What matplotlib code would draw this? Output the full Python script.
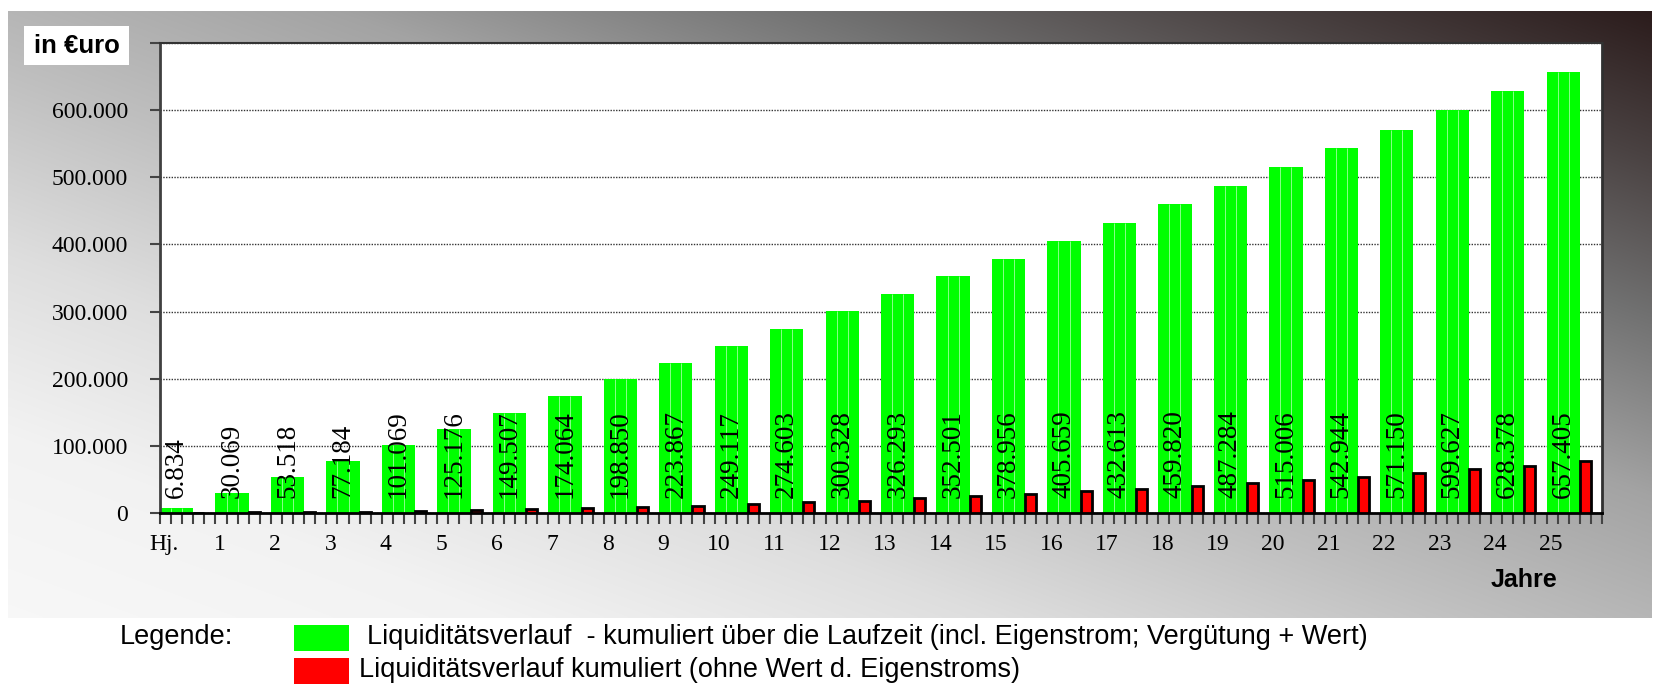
import numpy as np
import matplotlib.pyplot as plt
from matplotlib.patches import Rectangle
from matplotlib.ticker import FixedLocator, MultipleLocator, FuncFormatter
from matplotlib.transforms import ScaledTranslation

# Daten
jahre = ['Hj.'] + [str(i) for i in range(1, 26)]
mit_eigenstrom = [6834, 30069, 53518, 77184, 101069, 125176, 149507, 174064,
                  198850, 223867, 249117, 274603, 300328, 326293, 352501,
                  378956, 405659, 432613, 459820, 487284, 515006, 542944,
                  571150, 599627, 628378, 657405]
ohne_eigenstrom = [300, 900, 1500, 2200, 3000, 4200, 5600, 7500, 9300, 10800,
                   13500, 16300, 18600, 21800, 24800, 28500, 32500, 35500,
                   40000, 44500, 49000, 54000, 59500, 65000, 70500, 77000]
legende = ['  Liquiditätsverlauf  - kumuliert über die Laufzeit (incl. Eigenstrom; Vergütung + Wert)',
           'Liquiditätsverlauf kumuliert (ohne Wert d. Eigenstroms)']

W, H = 1657, 693
plt.rcParams['font.family'] = ['Liberation Sans', 'DejaVu Sans']
fig = plt.figure(figsize=(W / 100, H / 100), dpi=100)
fig.patch.set_facecolor('white')


def fpos(x0, y0, x1, y1):
    # Pixelkoordinaten (von oben) -> Figurkoordinaten
    return [x0 / W, 1 - y1 / H, (x1 - x0) / W, (y1 - y0) / H]


# Hintergrund mit Farbverlauf (hell unten links, dunkel oben rechts)
bg = fig.add_axes(fpos(8, 11, 1652, 618))
bg.axis('off')
xx, yy = np.meshgrid(np.linspace(0, 1, 600), np.linspace(1, 0, 300))
t = 0.5 * xx + 0.5 * yy
v = np.interp(t, [0, 0.15, 0.3, 0.45, 0.6, 0.75, 0.88, 1.0],
              [0.97, 0.95, 0.87, 0.75, 0.64, 0.44, 0.27, 0.13])
s = np.clip((t - 0.75) / 0.25, 0, 1)
img = np.dstack([v + 0.04 * s, v - 0.02 * s, v - 0.02 * s]).clip(0, 1)
bg.imshow(img, aspect='auto', extent=[0, 1, 0, 1], interpolation='bilinear')

# Diagramm
ax = fig.add_axes(fpos(160, 43, 1602, 513))
ax.set_facecolor('white')
x = np.arange(len(jahre))
ax.bar(x, mit_eigenstrom, width=0.6, align='edge', color='#00ff00', zorder=2)
for k in (0.2, 0.4):
    ax.vlines(x + k, 0, mit_eigenstrom, color='#8aff8a', lw=0.7, zorder=2.5)
ax.bar(x + 0.6, ohne_eigenstrom, width=0.2, align='edge', color='#ff0000',
       edgecolor='black', linewidth=2, zorder=3)

for i, val in enumerate(mit_eigenstrom):
    ax.text(i + 0.3, 23000, f'{val:,}'.replace(',', '.'), rotation=90,
            ha='center', va='bottom', fontsize=19.5, family='Liberation Serif',
            zorder=4)

ax.set_xlim(0, len(jahre))
ax.set_ylim(0, 700000)
ax.yaxis.set_major_locator(MultipleLocator(100000))
ax.yaxis.set_major_formatter(FuncFormatter(lambda v, p: f'{int(v):,}'.replace(',', '.')))
ax.yaxis.grid(True, linestyle=(0, (1, 1)), color='#333333', lw=1, zorder=1)
ax.set_axisbelow(True)

ax.xaxis.set_major_locator(FixedLocator(np.arange(len(jahre) + 1)))
ax.set_xticklabels(jahre + [''])
ax.xaxis.set_minor_locator(MultipleLocator(0.2))
ax.tick_params(axis='x', which='both', direction='out', length=8, width=1.5,
               color='#444444', labelsize=17, pad=7)
ax.tick_params(axis='y', direction='out', length=7, width=1.5,
               color='#444444', labelsize=17, pad=16)
for lbl in ax.get_xticklabels() + ax.get_yticklabels():
    lbl.set_family('Liberation Serif')
off = ScaledTranslation(4 / 100, 0, fig.dpi_scale_trans)
for lbl in ax.get_xticklabels():
    lbl.set_transform(lbl.get_transform() + off)

ax.spines['left'].set_color('#404040')
ax.spines['left'].set_linewidth(2)
ax.spines['bottom'].set_color('black')
ax.spines['bottom'].set_linewidth(2)
ax.spines['right'].set_color('#303030')
ax.spines['right'].set_linewidth(2)
ax.spines['top'].set_color('#333333')
ax.spines['top'].set_linewidth(1.5)

# Beschriftungen
fig.add_artist(Rectangle((24 / W, 1 - 65 / H), 105 / W, 39 / H,
                         transform=fig.transFigure, facecolor='white',
                         edgecolor='none', zorder=5))
fig.text(77 / W, 1 - 46 / H, 'in €uro', ha='center', va='center',
         fontsize=18.5, weight='bold', zorder=6)
fig.text(1524 / W, 1 - 580 / H, 'Jahre', ha='center', va='center',
         fontsize=18, weight='bold')

# Legende
fig.text(120 / W, 1 - 637 / H, 'Legende:', ha='left', va='center', fontsize=19.5)
fig.add_artist(Rectangle((294 / W, 1 - 651 / H), 55 / W, 26 / H,
                         transform=fig.transFigure, facecolor='#00ff00',
                         edgecolor='none'))
fig.add_artist(Rectangle((294 / W, 1 - 684 / H), 55 / W, 26 / H,
                         transform=fig.transFigure, facecolor='#ff0000',
                         edgecolor='none'))
fig.text(352 / W, 1 - 637 / H, legende[0], ha='left', va='center', fontsize=19.5)
fig.text(359 / W, 1 - 670 / H, legende[1], ha='left', va='center', fontsize=19.5)

fig.savefig('out.png', dpi=100)
